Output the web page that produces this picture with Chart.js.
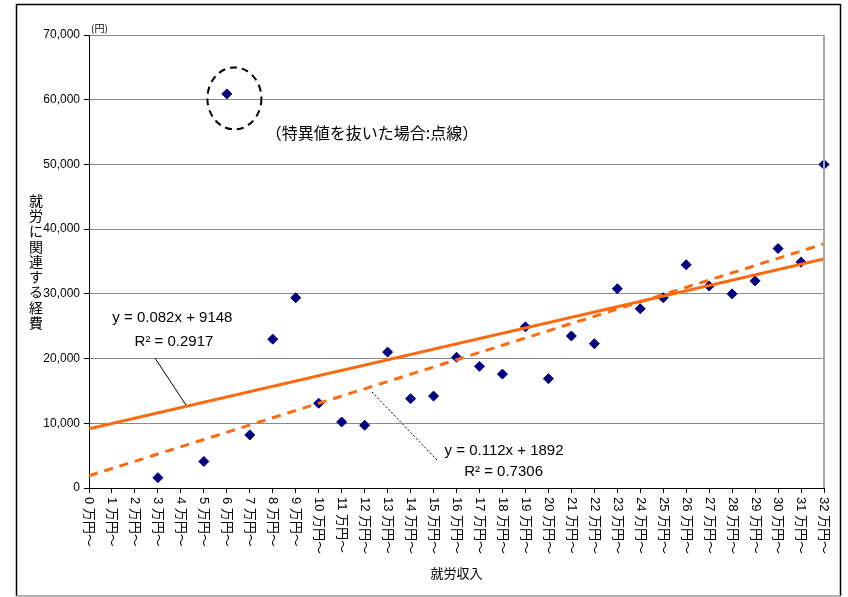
<!DOCTYPE html>
<html lang="ja">
<head>
<meta charset="utf-8">
<title>就労収入と就労に関連する経費</title>
<script src="https://cdn.jsdelivr.net/npm/chart.js@4/dist/chart.umd.min.js"></script>
<style>
  html, body { margin: 0; padding: 0; background: #fff; }
  #wrap { width: 848px; height: 597px; position: relative; }
</style>
</head>
<body>
<div id="wrap"><canvas id="chart"></canvas></div>
<script>
// income classes (x axis, 万円)
const incomeLabels = [
  '0 万円～', '1 万円～', '2 万円～', '3 万円～', '4 万円～', '5 万円～', '6 万円～',
  '7 万円～', '8 万円～', '9 万円～', '10 万円～', '11 万円～', '12 万円～', '13 万円～',
  '14 万円～', '15 万円～', '16 万円～', '17 万円～', '18 万円～', '19 万円～', '20 万円～',
  '21 万円～', '22 万円～', '23 万円～', '24 万円～', '25 万円～', '26 万円～', '27 万円～',
  '28 万円～', '29 万円～', '30 万円～', '31 万円～', '32 万円～'
];

// work related expenses (円), null = no data
const expenses = [
  null, null, null, 1600, null, 4100, 60900, 8200, 23000, 29400,
  13100, 10200, 9700, 21000, 13800, 14200, 20200, 18800, 17600, 24900,
  16900, 23500, 22300, 30800, 27700, 29400, 34500, 31200, 30000, 32000,
  37000, 34900, 50000
];

// trend lines: [slope per yen, intercept]
const fitAll = [0.082, 9148];
const fitNoOutlier = [0.112, 1892];
const yenPerClass = 10000;

const yTicks = [0, 10000, 20000, 30000, 40000, 50000, 60000, 70000];

const fontLatin = "'Liberation Sans', Arial";
const fontJa = "'Noto Sans CJK JP', sans-serif";

const points = expenses
  .map((v, i) => ({ x: i, y: v }))
  .filter(p => p.y !== null);

const lastIdx = incomeLabels.length - 1;
const fitLine = ([a, b]) => [0, lastIdx].map(x => ({ x, y: a * x * yenPerClass + b }));

// extra drawing: frame, x labels (rotated clockwise), titles, notes
const decor = {
  id: 'decor',
  beforeDraw(chart) {
    const { ctx, width, height } = chart;
    ctx.save();
    ctx.fillStyle = '#fff';
    ctx.fillRect(0, 0, width, height);
    ctx.restore();
  },
  afterDraw(chart) {
    const { ctx, chartArea: ca, scales: { x, y } } = chart;
    ctx.save();

    // outer frame
    ctx.lineWidth = 1.5;
    ctx.strokeStyle = '#000';
    ctx.beginPath();
    ctx.moveTo(16.5, 596);
    ctx.lineTo(16.5, 4.5);
    ctx.lineTo(840.5, 4.5);
    ctx.lineTo(840.5, 596);
    ctx.stroke();
    ctx.strokeStyle = '#999';
    ctx.beginPath();
    ctx.moveTo(16.5, 596);
    ctx.lineTo(840.5, 596);
    ctx.stroke();

    // plot right edge
    ctx.strokeStyle = '#a8a8a8';
    ctx.lineWidth = 2;
    ctx.beginPath();
    ctx.moveTo(ca.right, ca.top);
    ctx.lineTo(ca.right, ca.bottom);
    ctx.stroke();

    // x tick labels, reading top to bottom
    ctx.fillStyle = '#000';
    ctx.font = `13px ${fontLatin}, ${fontJa}`;
    ctx.textAlign = 'left';
    ctx.textBaseline = 'middle';
    incomeLabels.forEach((lab, i) => {
      ctx.save();
      ctx.translate(x.getPixelForValue(i), ca.bottom + 9);
      ctx.rotate(Math.PI / 2);
      ctx.fillText(lab, 0, 0);
      ctx.restore();
    });

    // axis titles
    ctx.font = `13px ${fontJa}`;
    ctx.textAlign = 'center';
    ctx.fillText('就労収入', (ca.left + ca.right) / 2, 573);
    ctx.font = `14px ${fontJa}`;
    const yTitle = '就労に関連する経費';
    const step = 15.3;
    const y0 = (ca.top + ca.bottom) / 2 - (yTitle.length - 1) * step / 2;
    [...yTitle].forEach((ch, i) => ctx.fillText(ch, 36, y0 + i * step));

    ctx.font = `10px ${fontJa}`;
    ctx.textAlign = 'left';
    ctx.fillText('(円)', ca.left + 2, ca.top - 7);

    // outlier circle
    ctx.strokeStyle = '#000';
    ctx.lineWidth = 2;
    ctx.setLineDash([7, 5]);
    ctx.beginPath();
    ctx.ellipse(x.getPixelForValue(6.33), y.getPixelForValue(60200), 27, 31, 0, 0, Math.PI * 2);
    ctx.stroke();
    ctx.setLineDash([]);

    ctx.font = `16px ${fontJa}`;
    ctx.textAlign = 'left';
    ctx.fillText('（特異値を抜いた場合:点線）', x.getPixelForValue(7.7), y.getPixelForValue(54870));

    // equations
    ctx.font = `15px ${fontLatin}`;
    ctx.textAlign = 'center';
    ctx.fillText('y = 0.082x + 9148', x.getPixelForValue(3.63), y.getPixelForValue(26300));
    ctx.fillText('R² = 0.2917', x.getPixelForValue(3.7), y.getPixelForValue(22600));
    ctx.fillText('y = 0.112x + 1892', x.getPixelForValue(18.07), y.getPixelForValue(5720));
    ctx.fillText('R² = 0.7306', x.getPixelForValue(18.05), y.getPixelForValue(2470));

    // leader lines
    ctx.lineWidth = 1;
    ctx.beginPath();
    ctx.moveTo(x.getPixelForValue(2.87), y.getPixelForValue(20090));
    ctx.lineTo(x.getPixelForValue(4.22), y.getPixelForValue(12830));
    ctx.stroke();
    ctx.setLineDash([2, 2]);
    ctx.beginPath();
    ctx.moveTo(x.getPixelForValue(12.32), y.getPixelForValue(14840));
    ctx.lineTo(x.getPixelForValue(15.19), y.getPixelForValue(4170));
    ctx.stroke();

    ctx.restore();
  }
};

Chart.defaults.font.family = `${fontLatin}, ${fontJa}`;
Chart.defaults.color = '#000';

new Chart(document.getElementById('chart').getContext('2d'), {
  type: 'scatter',
  data: {
    datasets: [
      {
        label: '近似直線',
        data: fitLine(fitAll),
        showLine: true,
        borderColor: '#ff6a10',
        borderWidth: 3,
        pointRadius: 0
      },
      {
        label: '近似直線(特異値を除く)',
        data: fitLine(fitNoOutlier),
        showLine: true,
        borderColor: '#ff6a10',
        borderWidth: 3,
        borderDash: [9, 7],
        pointRadius: 0
      },
      {
        label: '就労に関連する経費',
        data: points,
        clip: false,
        pointStyle: 'rectRot',
        pointRadius: 5,
        backgroundColor: '#000080',
        borderColor: '#000080',
        borderWidth: 1
      }
    ]
  },
  options: {
    responsive: true,
    maintainAspectRatio: false,
    animation: false,
    layout: { padding: { top: 35, right: 24, left: 0, bottom: 0 } },
    plugins: {
      legend: { display: false },
      tooltip: { enabled: false }
    },
    scales: {
      x: {
        type: 'linear',
        min: 0,
        max: lastIdx,
        afterBuildTicks: s => { s.ticks = incomeLabels.map((_, i) => ({ value: i })); },
        afterFit: s => { s.height = 109; },
        ticks: { display: false },
        grid: { drawOnChartArea: false, color: '#000', tickLength: 5 },
        border: { color: '#000', width: 1 }
      },
      y: {
        min: 0,
        max: 70000,
        afterBuildTicks: s => { s.ticks = yTicks.map(v => ({ value: v })); },
        afterFit: s => { s.width = 89; },
        ticks: {
          font: { size: 12 },
          color: '#000',
          padding: 4,
          callback: v => v.toLocaleString('en-US')
        },
        grid: { color: '#8a8a8a', tickColor: '#000', tickLength: 5 },
        border: { color: '#000', width: 1 }
      }
    }
  },
  plugins: [decor]
});
</script>
</body>
</html>
